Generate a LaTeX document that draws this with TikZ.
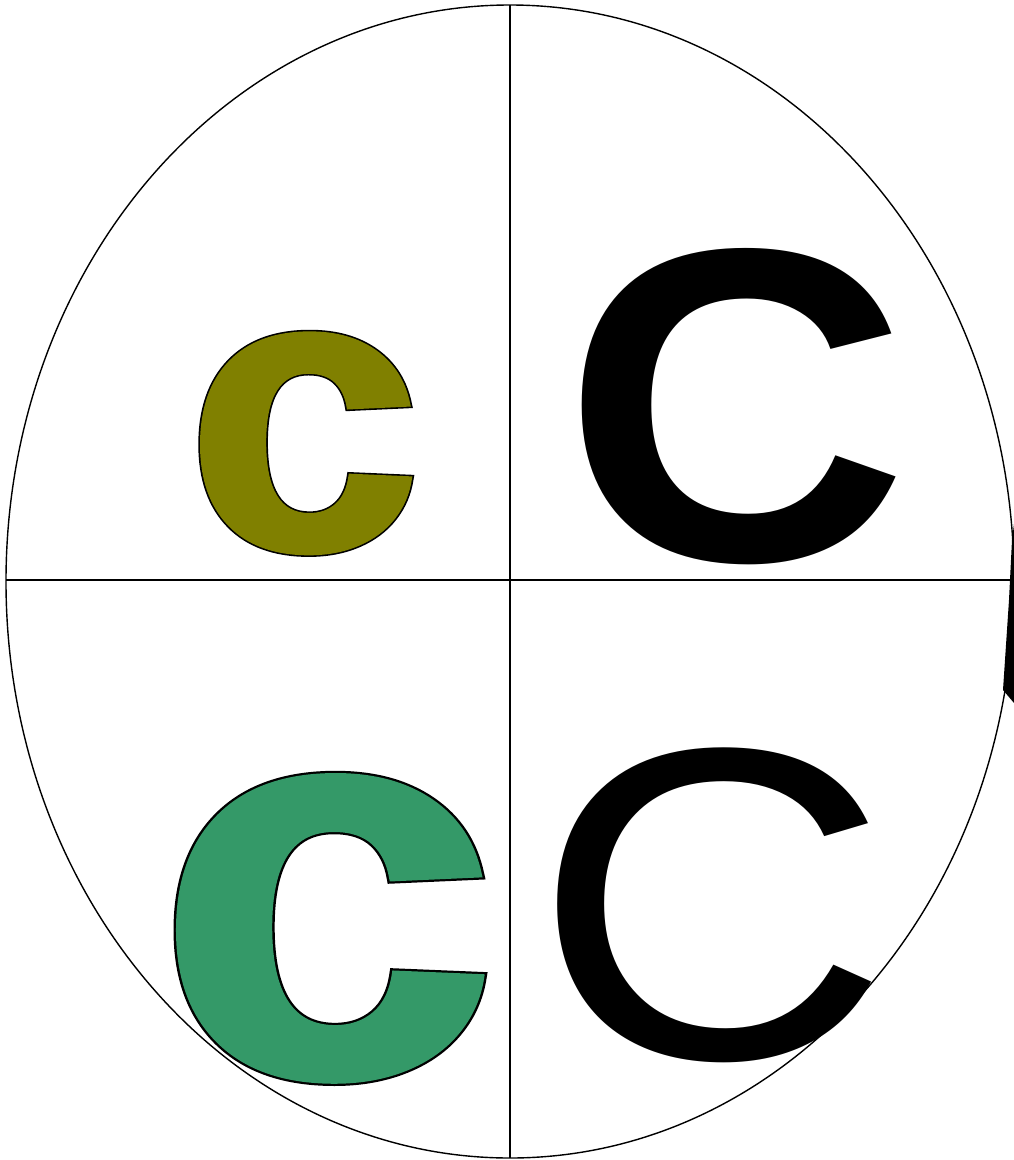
\documentclass[tikz,border=0pt]{standalone}
\usepackage{fontspec}
\setmainfont{Liberation Sans}
\newfontfamily\plainC{Liberation Sans}
\newfontfamily\boldC{Liberation Sans}
\newfontfamily\heavyA{Liberation Sans}[BoldFeatures={FakeBold=1.2}]
\newfontfamily\heavyB{Liberation Sans}[BoldFeatures={FakeBold=2.0}]
\definecolor{olivec}{RGB}{128,128,0}
\definecolor{greenc}{RGB}{52,153,104}
\tikzset{
  glyph/.style={anchor=base west, inner sep=0pt, outer sep=0pt},
  frame/.style={draw=black, line width=1.4pt},
}
\begin{document}
\begin{tikzpicture}[x=1pt,y=-1pt]
\useasboundingbox (0,0) rectangle (1014,1160);
\fill[white] (0,0) rectangle (1014,1160);
% outer ellipse and axes
\coordinate (ctr) at (510,581.5);
\draw[frame] (ctr) ellipse [x radius=504, y radius=576.5];
\coordinate (top) at (510,5);
\coordinate (bot) at (510,1158);
\coordinate (lft) at (6,580);
\coordinate (rgt) at (1014,580);
\draw[frame] (top) -- (bot);
\draw[frame] (lft) -- (rgt);
% top-left olive c
\node[glyph, xscale=1.06] (c1o) at (186,549) {\fontsize{400}{400}\heavyB\bfseries\color{black}c};
\node[glyph, xscale=1.06] (c1) at (186,549) {\fontsize{400}{400}\heavyA\bfseries\color{olivec}c};
% top-right black C
\node[glyph, xscale=1.074] (c2) at (562,560) {\fontsize{447}{447}\boldC\bfseries C};
% bottom-left green c
\node[glyph, xscale=1.111] (c3o) at (155.6,1075) {\fontsize{555}{555}\heavyB\bfseries\color{black}c};
\node[glyph, xscale=1.111] (c3) at (155.6,1075) {\fontsize{555}{555}\heavyA\bfseries\color{greenc}c};
% bottom-right black C
\node[glyph, xscale=1.114] (c4) at (532.5,1058) {\fontsize{445}{445}\plainC C};
% sliver at right edge
\fill[black] (1014,524) -- (1012,540) -- (1009,600) -- (1005,660) -- (1003,690) -- (1014,703) -- cycle;
\end{tikzpicture}
\end{document}
